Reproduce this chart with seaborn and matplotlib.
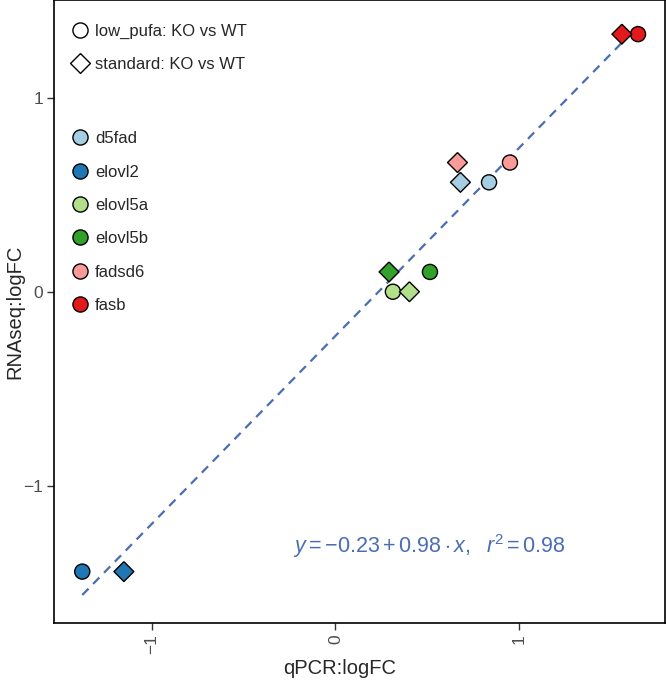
import seaborn as sns
import matplotlib.pyplot as plt
import pandas as pd
import numpy as np
from matplotlib.lines import Line2D

# datos
genes = ['d5fad', 'elovl2', 'elovl5a', 'elovl5b', 'fadsd6', 'fasb']
qpcr_low = [0.837, -1.380, 0.313, 0.515, 0.951, 1.649]
qpcr_std = [0.681, -1.153, 0.403, 0.292, 0.665, 1.561]
rnaseq = [0.564, -1.443, 0.0, 0.102, 0.666, 1.328]
contrasts = ['low_pufa: KO vs WT', 'standard: KO vs WT']
gene_colors = sns.color_palette('Paired', 6).as_hex()
line_color = '#4A6DB5'

data = pd.DataFrame({
    'gene': genes * 2,
    'qPCR': qpcr_low + qpcr_std,
    'RNAseq': rnaseq * 2,
    'contrast': [contrasts[0]] * 6 + [contrasts[1]] * 6,
})

sns.set_style('white')
plt.rcParams['font.family'] = ['Liberation Sans', 'DejaVu Sans']
plt.rcParams['mathtext.fontset'] = 'custom'
plt.rcParams['mathtext.rm'] = 'Liberation Sans'
plt.rcParams['mathtext.it'] = 'Liberation Sans:italic'

# rombo tipo ggplot (shape 23)
diamond = [(0, 1), (1, 0), (0, -1), (-1, 0), (0, 1)]
shape_marker = {contrasts[0]: 'o', contrasts[1]: diamond}
shape_size = {contrasts[0]: 118, contrasts[1]: 205}

fig = plt.figure(figsize=(6.66, 6.8), dpi=100)
ax = fig.add_axes([54 / 666, 57 / 680, 611 / 666, 623 / 680])

# linea de regresion
sns.regplot(data=data, x='qPCR', y='RNAseq', scatter=False, ci=None, truncate=True,
            line_kws=dict(color=line_color, ls=(0, (4, 3)), lw=1.6), ax=ax)

for c in contrasts:
    sub = data[data['contrast'] == c]
    sns.scatterplot(data=sub, x='qPCR', y='RNAseq', hue='gene', hue_order=genes,
                    palette=gene_colors, marker=shape_marker[c], s=shape_size[c],
                    edgecolor='black', linewidth=1, legend=False, ax=ax, zorder=3)

ax.text(0.51, -1.31, r'$y = -0.23 + 0.98 \cdot x,\ \ r^2 = 0.98$', color=line_color,
        fontsize=15.5, ha='center', va='center')

ax.set_xlim(-1.534, 1.796)
ax.set_ylim(-1.708, 1.504)
ax.set_xticks([-1, 0, 1])
ax.set_yticks([-1, 0, 1])
ax.set_xticklabels(['\u22121', '0', '1'], rotation=90)
ax.set_yticklabels(['\u22121', '0', '1'])
ax.tick_params(direction='out', length=5, width=1, colors='#333333', labelcolor='#4D4D4D',
               labelsize=12.5, left=True, bottom=True, pad=3)
for sp in ax.spines.values():
    sp.set_color('black')
    sp.set_linewidth(1.2)

ax.set_xlabel('qPCR:logFC', fontsize=14.5)
ax.set_ylabel('RNAseq:logFC', fontsize=14.5)
ax.xaxis.set_label_coords(0.468, -0.058)
ax.yaxis.set_label_coords(-0.048, 0.5)

# leyendas
shape_h = [Line2D([], [], marker='o', ls='', mfc='white', mec='black', mew=1, ms=10.9),
           Line2D([], [], marker=diamond, ls='', mfc='white', mec='black', mew=1, ms=14.3)]
leg1 = ax.legend(shape_h, contrasts, loc='upper left', bbox_to_anchor=(0.015, 0.973),
                 frameon=False, fontsize=12, labelspacing=1.1, handletextpad=0.3,
                 borderaxespad=0, handlelength=1.2)
ax.add_artist(leg1)
color_h = [Line2D([], [], marker='o', ls='', mfc=c, mec='black', mew=1, ms=10.9)
           for c in gene_colors]
ax.legend(color_h, genes, loc='upper left', bbox_to_anchor=(0.015, 0.80),
          frameon=False, fontsize=12, labelspacing=1.1, handletextpad=0.3,
          borderaxespad=0, handlelength=1.2)

plt.savefig('out.png', dpi=100)
